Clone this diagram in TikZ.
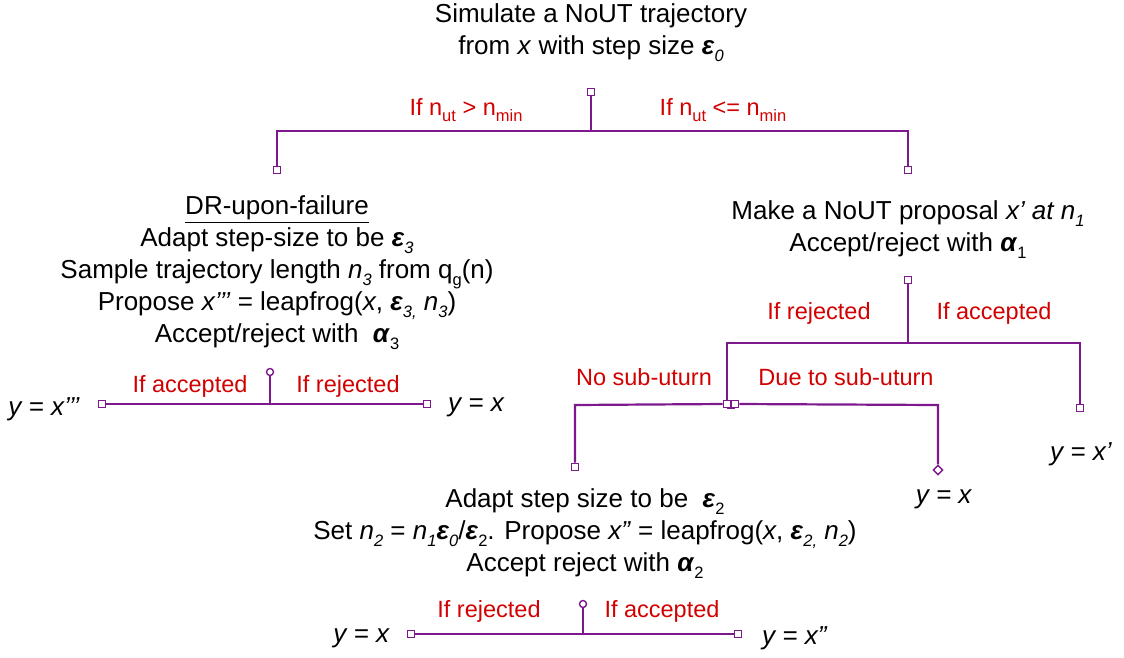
\documentclass[tikz,border=0pt]{standalone}
\usepackage{fontspec}
\setmainfont{Liberation Sans}
\usetikzlibrary{shapes.geometric}
\definecolor{pur}{RGB}{125,25,140}
\definecolor{labred}{RGB}{210,0,0}
\newcommand\sbs[1]{\raisebox{-0.5ex}{\fontsize{16.5}{16.5}\selectfont #1}}
\newcommand\eps{\textbf{\textit{ε}}}
\newcommand\alp{\textbf{\textit{α}}}
\tikzset{
 txt/.style={font=\fontsize{26}{32}\selectfont, align=center, inner sep=0pt},
 lab/.style={font=\fontsize{23.5}{28}\selectfont, text=labred, inner sep=0pt},
 sq/.style={draw=pur, line width=1.4pt, rectangle, minimum size=7.5pt, inner sep=0pt, fill=white},
 circ/.style={draw=pur, line width=1.4pt, circle, minimum size=7pt, inner sep=0pt, fill=white},
 dia/.style={draw=pur, line width=1.4pt, diamond, minimum size=10pt, inner sep=0pt, fill=white},
 conn/.style={draw=pur, line width=2.2pt},
}
\begin{document}
\begin{tikzpicture}[x=1pt,y=-1pt]
\useasboundingbox (0,0) rectangle (1124,657);
% top
\node[txt] (top) at (591,33) {Simulate a NoUT trajectory\\ from \textit{x} with step size \eps\sbs{\textit{0}}};
\node[sq] (r0) at (591,92) {};
\node[sq] (a) at (277,170) {};
\node[sq] (b) at (908,170) {};
\coordinate (j0) at (591,131);
\draw[conn] (r0.south) -- (j0);
\draw[conn] (a.north) -- (a.north |- j0) -- (b.north |- j0) -- (b.north);
\node[lab] (l00) at (466,110) {If n\sbs{ut} > n\sbs{min}};
\node[lab] (l01) at (723,110) {If n\sbs{ut} <= n\sbs{min}};
% left block
\node[txt] (lb) at (277,273) {\underline{DR-upon-failure}\\ Adapt step-size to be \eps\sbs{\textit{3}}\\ Sample trajectory length \textit{n}\sbs{\textit{3}} from q\sbs{g}(n)\\ Propose \textit{x’’’} = leapfrog(\textit{x}, \eps\sbs{\textit{3,}} \textit{n}\sbs{\textit{3}})\\ Accept/reject with \ \alp\sbs{3}};
\node[circ] (l0) at (270,372) {};
\node[sq] (l1) at (102,404) {};
\node[sq] (l2) at (427,404) {};
\draw[conn] (l1) -- (l2);
\draw[conn] (l0.south) -- (l0 |- l1);
\node[lab] (la) at (190,386) {If accepted};
\node[lab] (lr) at (348,386) {If rejected};
\node[txt, anchor=east] (ly1) at (80,409) {\textit{y = x’’’}};
\node[txt, anchor=west] (ly2) at (448,407) {\textit{y = x}};
% right block
\node[txt] (rb) at (908,230) {Make a NoUT proposal \textit{x’ at n}\sbs{\textit{1}}\\ Accept/reject with \alp\sbs{1}};
\node[sq] (r1) at (908,280) {};
\coordinate (rj) at (908,343);
\node[sq] (r2) at (1080,408) {};
\node[sq] (r3) at (731,405) {};
\node[sq] (r3a) at (727,404) {};
\node[sq] (r3b) at (735,404) {};
\node[sq] (r4) at (575,467) {};
\node[dia] (r5) at (938,470) {};
\draw[conn] (r1.south) -- (rj);
\draw[conn] (r3a.north) -- (r3a.north |- rj) -- (r2.north |- rj) -- (r2.north);
\draw[conn] (r4.north) -- (r4.north |- r3) -- (r3a.west);
\draw[conn] (r3b.east) -- (r5.north |- r3) -- (r5.north);
\node[lab] (rr) at (819,313) {If rejected};
\node[lab] (ra) at (994,313) {If accepted};
\node[lab] (rn) at (644,377) {No sub-uturn};
\node[lab] (rd) at (846,377) {Due to sub-uturn};
\node[txt] (ry1) at (1081,454) {\textit{y = x’}};
\node[txt] (ry2) at (944,499) {\textit{y = x}};
% bottom block
\node[txt] (bb) at (585,534) {Adapt step size to be \ \eps\sbs{2}\\ Set \textit{n}\sbs{\textit{2}} = \textit{n}\sbs{\textit{1}}\eps\sbs{\textit{0}}/\eps\sbs{2}. Propose \textit{x”} = leapfrog(\textit{x}, \eps\sbs{\textit{2,}} \textit{n}\sbs{\textit{2}})\\ Accept reject with \alp\sbs{2}};
\node[circ] (b0) at (583,604) {};
\node[sq] (b1) at (411,634) {};
\node[sq] (b2) at (738,634) {};
\draw[conn] (b1) -- (b2);
\draw[conn] (b0.south) -- (b0 |- b1);
\node[lab] (br) at (489,611) {If rejected};
\node[lab] (ba) at (662,611) {If accepted};
\node[txt, anchor=east] (by1) at (390,638) {\textit{y = x}};
\node[txt, anchor=west] (by2) at (762,638) {\textit{y = x”}};
\end{tikzpicture}
\end{document}
